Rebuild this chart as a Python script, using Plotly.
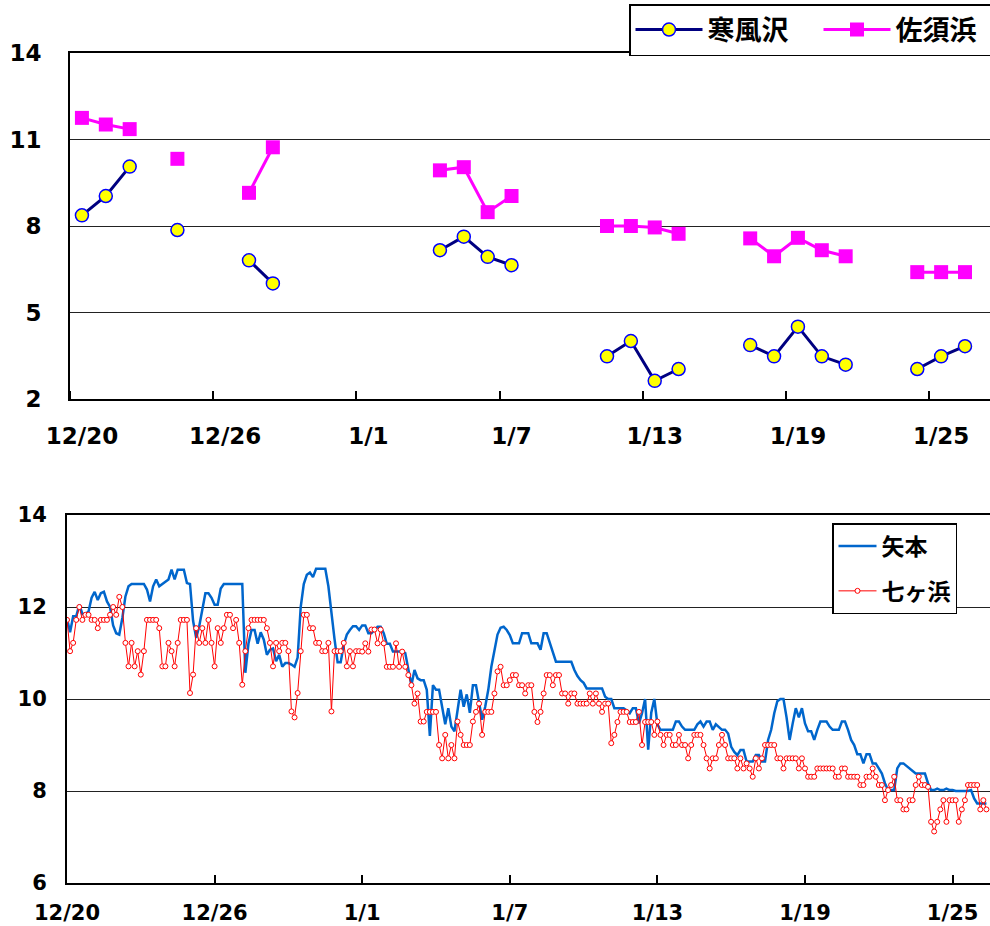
import plotly.graph_objects as go
import pandas as pd

# ---------------- top chart: daily values ----------------
days = ["12/20", "12/21", "12/22", "12/23", "12/24", "12/25", "12/26", "12/27",
        "12/28", "12/29", "12/30", "12/31", "1/1", "1/2", "1/3", "1/4", "1/5",
        "1/6", "1/7", "1/8", "1/9", "1/10", "1/11", "1/12", "1/13", "1/14",
        "1/15", "1/16", "1/17", "1/18", "1/19", "1/20", "1/21", "1/22", "1/23",
        "1/24", "1/25", "1/26"]

kanpuzawa = [8.37, 9.04, 10.06, None, 7.86, None, None, 6.81, 6.01, None,
             None, None, None, None, None, 7.16, 7.63, 6.93, 6.64, None,
             None, None, 3.48, 4.01, 2.63, 3.04, None, None, 3.87, 3.48,
             4.51, 3.48, 3.19, None, None, 3.04, 3.48, 3.83]

sasuhama = [11.75, 11.52, 11.36, None, 10.33, None, None, 9.15, 10.73, None,
            None, None, None, None, None, 9.93, 10.04, 8.48, 9.04, None,
            None, None, 8.0, 8.0, 7.95, 7.73, None, None, 7.57, 6.95,
            7.59, 7.16, 6.95, None, None, 6.40, 6.40, 6.40]

top_tick_labels = ["12/20", "12/26", "1/1", "1/7", "1/13", "1/19", "1/25"]
top_y_ticks = [2, 5, 8, 11, 14]

# ---------------- bottom chart: 3-hourly values ----------------
start = "2008-12-20 00:00"
yamoto = [
    11.75, 11.45, 11.8, 11.8, 12.05, 11.85, 11.85, 11.9,      # 12/20
    12.2, 12.33, 12.15, 12.3, 12.33, 12.12, 12.0, 11.6,       # 12/21
    11.43, 11.4, 11.76, 12.23, 12.45, 12.5, 12.5, 12.5,       # 12/22
    12.5, 12.5, 12.38, 12.12, 12.45, 12.6, 12.45, 12.5,       # 12/23
    12.55, 12.6, 12.81, 12.6, 12.81, 12.81, 12.81, 12.52,     # 12/24
    12.5, 11.7, 11.33, 11.58, 11.94, 12.3, 12.3, 12.2,        # 12/25
    12.05, 12.05, 12.4, 12.5, 12.5, 12.5, 12.5, 12.5,         # 12/26
    12.5, 12.5, 10.57, 11.2, 11.5, 11.5, 11.2, 11.45,         # 12/27
    11.29, 10.96, 11.07, 11.1, 10.82, 10.96, 10.7, 10.78,     # 12/28
    10.78, 10.75, 10.7, 10.9, 12.0, 12.5, 12.7, 12.75,        # 12/29
    12.65, 12.83, 12.83, 12.83, 12.83, 12.45, 11.8, 11.3,     # 12/30
    10.8, 10.8, 11.18, 11.4, 11.5, 11.58, 11.58, 11.5,        # 12/31
    11.6, 11.6, 11.43, 11.43, 11.5, 11.57, 11.57, 11.43,      # 1/1
    11.2, 11.2, 11.03, 11.03, 11.03, 11.03, 11.0, 10.6,       # 1/2
    10.3, 10.63, 10.45, 10.41, 10.41, 10.2, 9.2, 10.3,        # 1/3
    10.2, 10.2, 9.8, 9.45, 9.8, 9.4, 9.3, 9.8,                # 1/4
    10.2, 9.83, 10.1, 9.7, 10.3, 10.3, 9.9, 9.55,             # 1/5
    9.83, 10.2, 10.7, 11.1, 11.4, 11.55, 11.57, 11.5,         # 1/6
    11.39, 11.21, 11.21, 11.21, 11.43, 11.43, 11.43, 11.21,   # 1/7
    11.21, 11.21, 11.07, 11.43, 11.43, 11.21, 11.0, 10.81,    # 1/8
    10.81, 10.81, 10.81, 10.81, 10.81, 10.63, 10.5, 10.41,    # 1/9
    10.35, 10.23, 10.23, 10.23, 10.23, 10.23, 10.23, 10.05,   # 1/10
    10.0, 10.0, 9.8, 9.8, 9.8, 9.8, 9.75, 9.69,               # 1/11
    9.8, 9.8, 9.47, 9.69, 10.0, 8.9, 9.7, 10.0,               # 1/12
    9.45, 9.33, 9.33, 9.33, 9.33, 9.33, 9.51, 9.51,           # 1/13
    9.4, 9.33, 9.33, 9.33, 9.33, 9.45, 9.51, 9.4,             # 1/14
    9.51, 9.51, 9.33, 9.45, 9.4, 9.33, 9.33, 9.25,            # 1/15
    8.96, 8.85, 8.78, 8.89, 8.89, 8.64, 8.64, 8.64,           # 1/16
    8.78, 8.78, 8.64, 8.64, 9.11, 9.33, 9.69, 9.95,           # 1/17
    10.0, 10.0, 9.6, 9.11, 9.47, 9.8, 9.6, 9.8,               # 1/18
    9.47, 9.3, 9.3, 9.11, 9.33, 9.51, 9.51, 9.51,             # 1/19
    9.4, 9.33, 9.33, 9.33, 9.51, 9.51, 9.33, 9.11,            # 1/20
    9.0, 8.8, 8.8, 8.6, 8.8, 8.8, 8.6, 8.6,                   # 1/21
    8.49, 8.38, 8.17, 8.02, 8.02, 8.02, 8.49, 8.6,            # 1/22
    8.6, 8.55, 8.5, 8.45, 8.38, 8.38, 8.38, 8.38,             # 1/23
    8.17, 8.02, 8.02, 8.05, 8.02, 8.02, 8.05, 8.02,           # 1/24
    8.02, 8.0, 8.0, 8.0, 8.0, 8.0, 8.02, 7.84,                # 1/25
    7.73, 7.73, 7.73, 7.73,                                   # 1/26
]

shichigahama = [
    11.72, 11.04, 11.22, 11.72, 12.0, 11.72, 11.83, 11.83,    # 12/20
    11.72, 11.72, 11.54, 11.72, 11.72, 11.72, 11.83, 12.0,    # 12/21
    11.83, 12.22, 12.0, 11.22, 10.71, 11.22, 10.71, 11.04,    # 12/22
    10.53, 11.04, 11.72, 11.72, 11.72, 11.72, 11.54, 10.71,   # 12/23
    10.71, 11.22, 11.04, 10.71, 11.22, 11.72, 11.72, 11.72,   # 12/24
    10.13, 10.53, 11.54, 11.22, 11.54, 11.22, 11.72, 11.22,   # 12/25
    10.71, 11.54, 11.22, 11.54, 11.83, 11.83, 11.54, 11.72,   # 12/26
    11.22, 10.31, 11.04, 11.54, 11.72, 11.72, 11.72, 11.72,   # 12/27
    11.72, 11.54, 11.22, 10.71, 11.22, 11.04, 11.22, 11.22,   # 12/28
    11.04, 9.73, 9.6, 10.13, 11.04, 11.83, 11.83, 11.54,      # 12/29
    11.54, 11.22, 11.22, 11.04, 11.04, 11.22, 9.73, 11.04,    # 12/30
    11.04, 11.04, 11.22, 10.71, 11.04, 10.71, 11.04, 11.04,   # 12/31
    11.03, 11.21, 11.03, 11.51, 11.51, 11.21, 11.51, 11.21,   # 1/1
    10.7, 10.7, 10.7, 11.21, 10.7, 11.03, 10.7, 10.52,        # 1/2
    10.3, 9.9, 10.12, 9.51, 9.51, 9.72, 9.72, 9.72,           # 1/3
    9.72, 9.0, 8.71, 9.22, 8.71, 9.0, 8.71, 9.51,             # 1/4
    9.22, 9.0, 9.0, 9.0, 9.51, 9.72, 9.9, 9.22,               # 1/5
    9.72, 9.72, 9.72, 10.12, 10.6, 10.7, 10.3, 10.3,          # 1/6
    10.41, 10.52, 10.52, 10.3, 10.3, 10.12, 10.3, 10.3,       # 1/7
    9.72, 9.5, 9.72, 10.12, 10.52, 10.52, 10.3, 10.52,        # 1/8
    10.52, 10.12, 10.12, 9.9, 10.12, 10.12, 9.9, 9.9,         # 1/9
    9.9, 9.9, 10.12, 9.9, 10.12, 9.9, 9.72, 9.9,              # 1/10
    9.9, 9.04, 9.22, 9.5, 9.72, 9.72, 9.72, 9.5,              # 1/11
    9.5, 9.5, 9.72, 9.0, 9.5, 9.5, 9.5, 9.22,                 # 1/12
    9.51, 9.22, 9.0, 9.22, 9.22, 9.0, 9.0, 9.22,              # 1/13
    9.0, 9.0, 8.71, 9.0, 9.22, 9.22, 9.22, 9.0,               # 1/14
    8.71, 8.49, 8.71, 8.71, 9.0, 9.22, 9.0, 8.71,             # 1/15
    8.71, 8.71, 8.49, 8.71, 8.49, 8.6, 8.49, 8.31,            # 1/16
    8.71, 8.49, 8.71, 9.0, 9.0, 9.0, 9.0, 8.71,               # 1/17
    8.71, 8.49, 8.71, 8.71, 8.71, 8.71, 8.49, 8.71,           # 1/18
    8.49, 8.31, 8.31, 8.31, 8.49, 8.49, 8.49, 8.49,           # 1/19
    8.49, 8.49, 8.31, 8.31, 8.49, 8.49, 8.31, 8.31,           # 1/20
    8.31, 8.31, 8.13, 8.13, 8.31, 8.31, 8.49, 8.31,           # 1/21
    8.13, 8.13, 7.8, 8.02, 8.13, 8.31, 7.8, 7.8,              # 1/22
    7.6, 7.6, 7.8, 7.8, 8.13, 8.31, 8.13, 8.13,               # 1/23
    8.09, 7.33, 7.12, 7.33, 7.6, 7.8, 7.33, 7.8,              # 1/24
    7.8, 7.8, 7.33, 7.6, 7.8, 8.13, 8.13, 8.13,               # 1/25
    8.13, 7.6, 7.8, 7.6,                                      # 1/26
]

bottom_tick_dates = ["2008-12-20", "2008-12-26", "2009-01-01", "2009-01-07",
                     "2009-01-13", "2009-01-19", "2009-01-25"]
bottom_tick_labels = ["12/20", "12/26", "1/1", "1/7", "1/13", "1/19", "1/25"]

# ---------------- build ----------------
W, H = 990, 926
top_x = list(range(len(days)))
times = pd.date_range(start=start, periods=len(yamoto), freq="3h")

NUM_FONT = "DejaVu Sans, Liberation Sans, Arial, sans-serif"
JP_FONT = "Noto Sans CJK JP, sans-serif"

fig = go.Figure()

fig.add_trace(go.Scatter(
    x=top_x, y=kanpuzawa, name="寒風沢", mode="lines+markers",
    connectgaps=False, xaxis="x", yaxis="y", legend="legend",
    line=dict(color="#000080", width=3),
    marker=dict(symbol="circle", size=13, color="#FFFF00",
                line=dict(color="#0000FF", width=1.5)),
))
fig.add_trace(go.Scatter(
    x=top_x, y=sasuhama, name="佐須浜", mode="lines+markers",
    connectgaps=False, xaxis="x", yaxis="y", legend="legend",
    line=dict(color="#FF00FF", width=3),
    marker=dict(symbol="square", size=14, color="#FF00FF",
                line=dict(color="#FF00FF", width=0)),
))

fig.add_trace(go.Scatter(
    x=times, y=yamoto, name="矢本", mode="lines",
    xaxis="x2", yaxis="y2", legend="legend2", legendgroup="a",
    line=dict(color="#0066CC", width=2.5),
))
fig.add_trace(go.Scatter(
    x=times, y=shichigahama, name="七ヶ浜", mode="lines+markers",
    xaxis="x2", yaxis="y2", legend="legend2", legendgroup="b",
    line=dict(color="#FF0000", width=1),
    marker=dict(symbol="circle", size=5, color="white",
                line=dict(color="#FF0000", width=1)),
))

top_dom_y = [(H - 399) / H, (H - 53) / H]
bot_dom_y = [(H - 883) / H, (H - 515) / H]

day_px_top = (928 - 212) / 30.0
top_right = (W - 70) / day_px_top - 0.5
day_px_bot = (952 - 214) / 30.0
bot_span_days = (W - 67) / day_px_bot
bot_end = pd.Timestamp(start) + pd.Timedelta(days=bot_span_days)

fig.update_layout(
    width=W, height=H,
    margin=dict(l=0, r=0, t=0, b=0, autoexpand=False),
    paper_bgcolor="white", plot_bgcolor="white",
    showlegend=True,
    xaxis=dict(
        domain=[70 / W, 1], anchor="y", range=[-0.5, top_right], automargin=False,
        tickmode="array", tickvals=[days.index(d) for d in top_tick_labels],
        ticktext=top_tick_labels, ticks="", showgrid=False, zeroline=False,
        showline=True, linecolor="black", linewidth=2, mirror=True,
        tickfont=dict(family=NUM_FONT, size=23, color="black", weight="bold"),
        ticklabelstandoff=15,
        minor=dict(ticks="inside", ticklen=8, tickwidth=1.5, tickcolor="black",
                   tickmode="linear", tick0=5.5, dtick=6, showgrid=False),
    ),
    yaxis=dict(
        domain=top_dom_y, anchor="x", range=[2, 14], automargin=False,
        tickmode="array", tickvals=top_y_ticks, ticks="",
        showgrid=True, gridcolor="#222222", gridwidth=1, zeroline=False,
        showline=True, linecolor="black", linewidth=2,
        tickfont=dict(family=NUM_FONT, size=23, color="black", weight="bold"),
        ticklabelstandoff=22,
    ),
    xaxis2=dict(
        domain=[67 / W, 1], anchor="y2", type="date", automargin=False,
        range=[pd.Timestamp(start), bot_end],
        tickmode="array", tickvals=bottom_tick_dates, ticktext=bottom_tick_labels,
        ticks="inside", ticklen=8, tickwidth=1.5, tickcolor="black",
        showgrid=False, zeroline=False,
        showline=True, linecolor="black", linewidth=2, mirror=True,
        tickfont=dict(family=NUM_FONT, size=21, color="black", weight="bold"),
        ticklabelstandoff=10,
    ),
    yaxis2=dict(
        domain=bot_dom_y, anchor="x2", range=[6, 14], dtick=2, tick0=6,
        automargin=False,
        ticks="", showgrid=True, gridcolor="#222222", gridwidth=1,
        zeroline=False, showline=True, linecolor="black", linewidth=2,
        tickfont=dict(family=NUM_FONT, size=21, color="black", weight="bold"),
        ticklabelstandoff=14,
    ),
    legend=dict(
        x=629 / W, y=1 - 4 / H, xanchor="left", yanchor="top",
        orientation="h", bgcolor="white", bordercolor="black", borderwidth=1.5,
        font=dict(family=JP_FONT, size=27, color="black", weight="bold"),
        itemwidth=67, entrywidth=106,
    ),
    legend2=dict(
        x=832 / W, y=1 - 523 / H, xanchor="left", yanchor="top",
        orientation="v", bgcolor="white", bordercolor="black", borderwidth=1.5,
        font=dict(family=JP_FONT, size=23, color="black", weight="bold"),
        tracegroupgap=12, itemwidth=38,
    ),
)

fig.write_html("out.html", config={"displayModeBar": False},
               post_script="document.body.style.margin='0px';")
